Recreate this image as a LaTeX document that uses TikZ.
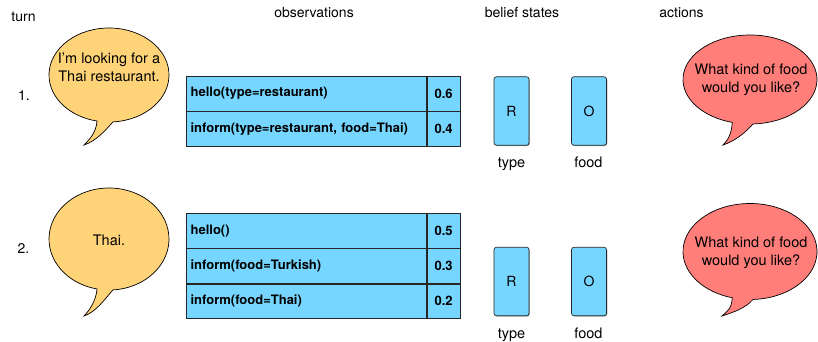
\documentclass[tikz,border=0pt]{standalone}
\usepackage{fontspec}
\setmainfont{TeX Gyre Heros}
\usetikzlibrary{shadows}

\definecolor{cantaloupe}{HTML}{FFD479}
\definecolor{salmon}{HTML}{FF7E79}
\definecolor{sky}{HTML}{76D6FF}

% Speech bubble: #1 fill colour, #2 centre, #3 x radius, #4 y radius,
% #5 angle of the right foot of the tail, #6 angle of the left foot (+360), #7 tail tip
\newcommand\speechbubble[7]{%
  \filldraw[bubble, fill=#1] (#2) ++(#5:#3 and #4) coordinate (rb)
    arc[start angle=#5, end angle=#6, x radius=#3, y radius=#4]
    .. controls +(-1,-12) and +(5,5) .. (#7)
    .. controls +(12,4) and +(-8,-9) .. (rb) -- cycle;}

\tikzset{
  bubble/.style={draw=black, line width=0.7pt},
  txt/.style={inner sep=0pt, anchor=base, font=\fontsize{14.5}{17}\selectfont},
  head/.style={txt, font=\fontsize{14}{17}\selectfont},
  cellshadow/.style={drop shadow={shadow xshift=0.8pt, shadow yshift=-0.8pt, opacity=0.35, fill=black}},
  cell/.style={draw=black!85, line width=0.7pt, fill=sky, minimum height=34.6pt,
    inner sep=0pt, anchor=north west, font=\fontsize{13}{15}\selectfont\bfseries, cellshadow},
  actcell/.style={cell, text width=231.5pt, minimum width=240pt, inner xsep=4.25pt, align=left},
  probcell/.style={cell, minimum width=33pt},
  beliefbox/.style={draw=black!85, line width=0.7pt, fill=sky, rounded corners=2.5pt,
    minimum width=35pt, minimum height=68.5pt, inner sep=0pt,
    font=\fontsize{14}{17}\selectfont, cellshadow},
}

\begin{document}
\begin{tikzpicture}[x=1pt, y=1pt]
\useasboundingbox (0,0) rectangle (818,-342);

% column headings
\node[head] (hturn) at (23.5,-22) {turn};
\node[head] (hobs) at (314,-17.5) {observations};
\node[head] (hbel) at (522,-17.5) {belief states};
\node[head] (hact) at (681.5,-17.5) {actions};

% turn numbers
\node[head] (t1) at (24,-100) {1.};
\node[head] (t2) at (23.5,-253) {2.};

% user utterances
\speechbubble{cantaloupe}{109,-75}{60}{47}{273.8}{618.5}{84,-145}
\node[txt] (u1a) at (109,-64) {I’m looking for a};
\node[txt] (u1b) at (109,-82) {Thai restaurant.};

\speechbubble{cantaloupe}{109,-239}{60}{51}{273.8}{618.5}{84,-316}
\node[txt] (u2) at (109,-245) {Thai.};

% system actions
\speechbubble{salmon}{750,-79.5}{67}{44.5}{272.6}{614.7}{723,-145}
\node[txt] (a1a) at (751,-75) {What kind of food};
\node[txt] (a1b) at (751,-93) {would you like?};

\speechbubble{salmon}{750,-251.5}{67}{48}{272.6}{614.7}{722,-316}
\node[txt] (a2a) at (751,-247) {What kind of food};
\node[txt] (a2b) at (751,-265) {would you like?};

% observations, turn 1
\node[actcell] (o1a) at (186,-76) {hello(type=restaurant)};
\node[probcell] (p1a) at (o1a.north east) {0.6};
\node[actcell] (o1b) at (o1a.south west) {inform(type=restaurant, food=Thai)};
\node[probcell] (p1b) at (o1b.north east) {0.4};

% observations, turn 2
\node[actcell] (o2a) at (186,-213) {hello()};
\node[probcell] (p2a) at (o2a.north east) {0.5};
\node[actcell] (o2b) at (o2a.south west) {inform(food=Turkish)};
\node[probcell] (p2b) at (o2b.north east) {0.3};
\node[actcell] (o2c) at (o2b.south west) {inform(food=Thai)};
\node[probcell] (p2c) at (o2c.north east) {0.2};

% belief states, turn 1
\node[beliefbox] (b1t) at (511.5,-111) {R};
\node[beliefbox] (b1f) at (589,-111) {O};
\node[txt] (l1t) at (511.5,-167.5) {type};
\node[txt] (l1f) at (588.5,-167.5) {food};

% belief states, turn 2
\node[beliefbox] (b2t) at (511.5,-281.5) {R};
\node[beliefbox] (b2f) at (589,-281.5) {O};
\node[txt] (l2t) at (511.5,-338.5) {type};
\node[txt] (l2f) at (588.5,-338.5) {food};
\end{tikzpicture}
\end{document}
